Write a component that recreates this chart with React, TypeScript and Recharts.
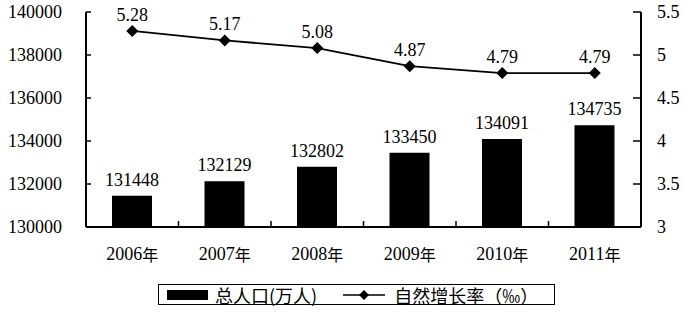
import { ComposedChart, Bar, Line, XAxis, YAxis, LabelList } from 'recharts';

const years = ['2006年', '2007年', '2008年', '2009年', '2010年', '2011年'];
const population = [131448, 132129, 132802, 133450, 134091, 134735];
const growthRate = [5.28, 5.17, 5.08, 4.87, 4.79, 4.79];
const leftTicks = [130000, 132000, 134000, 136000, 138000, 140000];
const rightTicks = [3, 3.5, 4, 4.5, 5, 5.5];

const data = years.map((year, i) => ({
  year,
  pop: population[i],
  rate: growthRate[i]
}));

const cjk = 'Noto Sans CJK SC, sans-serif';
const band = (641 - 86) / years.length;

const css = `
  .chart svg text { font-family: 'Liberation Serif', serif !important; font-size: 18px; }
  .chart svg text .cjk { font-family: 'Noto Sans CJK SC', sans-serif !important; font-size: 16px; }
`;

const Diamond = (props: any) => {
  const { cx, cy } = props;
  if (cx == null || cy == null) return null;
  const r = 6;
  return (
    <polygon
      points={`${cx},${cy - r} ${cx + r},${cy} ${cx},${cy + r} ${cx - r},${cy}`}
      fill="#000"
    />
  );
};

const YearTick = (props: any) => {
  const { x, y, payload, index } = props;
  return (
    <g>
      <text x={x} y={y + 27} textAnchor="middle" dominantBaseline="central" fill="#000">
        <tspan>{payload.value.slice(0, 4)}</tspan>
        <tspan className="cjk">{payload.value.slice(4)}</tspan>
      </text>
      {index < years.length - 1 && (
        <line x1={x + band / 2} x2={x + band / 2} y1={y} y2={y - 6} stroke="#000" strokeWidth={1.5} />
      )}
    </g>
  );
};

export default function App() {
  return (
    <div className="chart" style={{ position: 'absolute', left: 0, top: 0, width: 685, height: 324, background: '#fff' }}>
      <style>{css}</style>
      <ComposedChart
        width={685}
        height={324}
        data={data}
        barCategoryGap={0}
        margin={{ top: 12, right: 0, left: 0, bottom: 57 }}
      >
        <XAxis
          dataKey="year"
          xAxisId="x"
          height={40}
          axisLine={{ stroke: '#000', strokeWidth: 2 }}
          tickLine={false}
          tickSize={0}
          tickMargin={0}
          tick={<YearTick />}
          interval={0}
        />
        <YAxis
          yAxisId="left"
          width={86}
          domain={[130000, 140000]}
          ticks={leftTicks}
          interval={0}
          axisLine={{ stroke: '#000', strokeWidth: 2 }}
          tickLine={{ stroke: '#000', strokeWidth: 1.5 }}
          tickSize={-5}
          tickMargin={29}
          tick={{ fill: '#000', fontSize: 18 }}
        />
        <YAxis
          yAxisId="right"
          orientation="right"
          width={44}
          domain={[3, 5.5]}
          ticks={rightTicks}
          interval={0}
          axisLine={{ stroke: '#000', strokeWidth: 2 }}
          tickLine={{ stroke: '#000', strokeWidth: 1.5 }}
          tickSize={-8}
          tickMargin={24}
          tick={{ fill: '#000', fontSize: 18, textAnchor: 'start' }}
        />
        <Bar
          xAxisId="x"
          yAxisId="left"
          dataKey="pop"
          fill="#000"
          barSize={40}
          isAnimationActive={false}
        >
          <LabelList dataKey="pop" position="top" offset={10} fill="#000" fontSize={18} />
        </Bar>
        <Line
          xAxisId="x"
          yAxisId="right"
          dataKey="rate"
          stroke="#000"
          strokeWidth={1.8}
          dot={<Diamond />}
          activeDot={false}
          isAnimationActive={false}
        >
          <LabelList dataKey="rate" position="top" offset={10} fill="#000" fontSize={18} />
        </Line>
      </ComposedChart>
      <div
        style={{
          position: 'absolute',
          left: 158,
          top: 284,
          width: 395,
          height: 19,
          border: '1.5px solid #000',
          display: 'flex',
          alignItems: 'center',
          fontFamily: cjk,
          fontSize: 18,
          color: '#000',
          lineHeight: 1,
          whiteSpace: 'nowrap'
        }}
      >
        <div style={{ width: 41, height: 10, background: '#000', marginLeft: 8 }} />
        <span style={{ marginLeft: 7 }}>总人口(万人)</span>
        <svg width={42} height={12} style={{ marginLeft: 26 }}>
          <line x1={0} x2={42} y1={6} y2={6} stroke="#000" strokeWidth={1.5} />
          <polygon points="21,1 26,6 21,11 16,6" fill="#000" />
        </svg>
        <span style={{ marginLeft: 9 }}>自然增长率（‰）</span>
      </div>
    </div>
  );
}
